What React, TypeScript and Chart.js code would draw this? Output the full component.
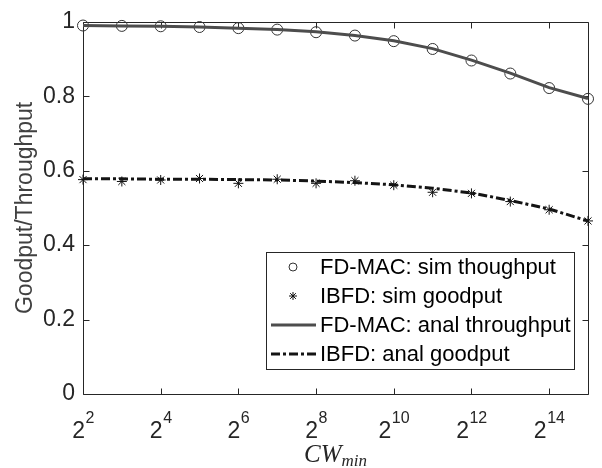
import React, { useEffect, useRef } from "react";
import { Chart, registerables } from "chart.js";

Chart.register(...registerables);

const exponents = [2, 3, 4, 5, 6, 7, 8, 9, 10, 11, 12, 13, 14, 15];
const simThroughput = [0.99, 0.989, 0.988, 0.986, 0.983, 0.979, 0.972, 0.963, 0.948, 0.927, 0.896, 0.861, 0.822, 0.793];
const analThroughput = [0.99, 0.989, 0.988, 0.986, 0.983, 0.979, 0.973, 0.963, 0.949, 0.928, 0.897, 0.862, 0.823, 0.794];
const simGoodput = [0.576, 0.571, 0.575, 0.579, 0.566, 0.577, 0.566, 0.573, 0.561, 0.542, 0.539, 0.517, 0.495, 0.465];
const analGoodput = [0.578, 0.578, 0.577, 0.577, 0.576, 0.575, 0.572, 0.568, 0.562, 0.553, 0.54, 0.52, 0.497, 0.465];
const xTickExponents = [2, 4, 6, 8, 10, 12, 14];
const yTicks = [0, 0.2, 0.4, 0.6, 0.8, 1];
const legendLabels = [
  "FD-MAC: sim thoughput",
  "IBFD: sim goodput",
  "FD-MAC: anal throughput",
  "IBFD: anal goodput",
];
const xTitle = "CW";
const xTitleSub = "min";
const yTitle = "Goodput/Throughput";

const AXIS = "#262626";
const FONT = "'Liberation Sans', Arial, sans-serif";
const THR_COLOR = "#4d4d4d";
const GP_COLOR = "#141414";
const GP_DASH = [9, 3, 3, 3];

const pts = (ys: number[]) => exponents.map((x, i) => ({ x, y: ys[i] }));

const drawStar = (ctx: CanvasRenderingContext2D, x: number, y: number, r: number) => {
  ctx.beginPath();
  for (let k = 0; k < 4; k++) {
    const a = (k * Math.PI) / 4;
    ctx.moveTo(x - r * Math.cos(a), y - r * Math.sin(a));
    ctx.lineTo(x + r * Math.cos(a), y + r * Math.sin(a));
  }
  ctx.stroke();
};

const matlabPlugin = {
  id: "matlabAxes",
  beforeDatasetsDraw(chart: any) {
    const { ctx, chartArea: a, scales } = chart;
    const xs = scales.x;
    const ys = scales.y;
    ctx.save();
    ctx.strokeStyle = AXIS;
    ctx.lineWidth = 1;
    const L = Math.round(a.left) + 0.5;
    const R = Math.round(a.right) + 0.5;
    const T = Math.round(a.top) + 0.5;
    const B = Math.round(a.bottom) + 0.5;
    ctx.beginPath();
    ctx.rect(L, T, R - L, B - T);
    ctx.stroke();
    const tl = 6;
    ctx.beginPath();
    xTickExponents.forEach((e) => {
      const px = Math.round(xs.getPixelForValue(e)) + 0.5;
      ctx.moveTo(px, B);
      ctx.lineTo(px, B - tl);
      ctx.moveTo(px, T);
      ctx.lineTo(px, T + tl);
    });
    yTicks.forEach((v) => {
      const py = Math.round(ys.getPixelForValue(v)) + 0.5;
      ctx.moveTo(L, py);
      ctx.lineTo(L + tl, py);
      ctx.moveTo(R, py);
      ctx.lineTo(R - tl, py);
    });
    ctx.stroke();

    // x tick labels 2^n
    ctx.fillStyle = AXIS;
    ctx.textBaseline = "alphabetic";
    ctx.textAlign = "left";
    xTickExponents.forEach((e) => {
      const px = xs.getPixelForValue(e);
      ctx.font = `23px ${FONT}`;
      const wb = ctx.measureText("2").width;
      ctx.font = `16px ${FONT}`;
      const we = ctx.measureText(String(e)).width;
      const start = px - (wb + we) / 2;
      ctx.font = `23px ${FONT}`;
      ctx.fillText("2", start, 438);
      ctx.font = `16px ${FONT}`;
      ctx.fillText(String(e), start + wb + 0.5, 423);
    });

    // x title
    const cx = (a.left + a.right) / 2;
    const serif = "'Liberation Serif', 'Times New Roman', serif";
    ctx.font = `italic 25px ${serif}`;
    const w1 = ctx.measureText(xTitle).width;
    ctx.font = `italic 17px ${serif}`;
    const w2 = ctx.measureText(xTitleSub).width;
    const sx = cx - (w1 + w2) / 2;
    ctx.font = `italic 25px ${serif}`;
    ctx.fillText(xTitle, sx, 462);
    ctx.font = `italic 17px ${serif}`;
    ctx.fillText(xTitleSub, sx + w1, 466);

    // y title
    ctx.save();
    ctx.translate(26, (a.top + a.bottom) / 2);
    ctx.rotate(-Math.PI / 2);
    ctx.font = `23px ${FONT}`;
    ctx.textAlign = "center";
    ctx.textBaseline = "middle";
    ctx.fillStyle = "#404040";
    ctx.fillText(yTitle, 0, 0);
    ctx.restore();
    ctx.restore();
  },
  afterDatasetsDraw(chart: any) {
    const { ctx } = chart;
    ctx.save();
    const bx = 266.5, by = 252.5, bw = 308, bh = 117;
    ctx.fillStyle = "#ffffff";
    ctx.fillRect(bx, by, bw, bh);
    ctx.strokeStyle = AXIS;
    ctx.lineWidth = 1;
    ctx.strokeRect(bx, by, bw, bh);
    const rows = [267, 296, 325, 354];
    const textX = 320;
    ctx.font = `22px ${FONT}`;
    ctx.fillStyle = "#000000";
    ctx.textAlign = "left";
    ctx.textBaseline = "middle";
    legendLabels.forEach((lbl, i) => ctx.fillText(lbl, textX, rows[i] + 1));
    // markers
    ctx.strokeStyle = "#333333";
    ctx.lineWidth = 1;
    ctx.beginPath();
    ctx.arc(293, rows[0], 4, 0, Math.PI * 2);
    ctx.stroke();
    ctx.strokeStyle = "#111111";
    drawStar(ctx, 293, rows[1], 4);
    ctx.lineWidth = 3;
    ctx.strokeStyle = THR_COLOR;
    ctx.beginPath();
    ctx.moveTo(271, rows[2]);
    ctx.lineTo(316, rows[2]);
    ctx.stroke();
    ctx.strokeStyle = GP_COLOR;
    ctx.setLineDash(GP_DASH);
    ctx.beginPath();
    ctx.moveTo(271, rows[3]);
    ctx.lineTo(316, rows[3]);
    ctx.stroke();
    ctx.restore();
  },
};

export default function App() {
  const ref = useRef<HTMLCanvasElement | null>(null);
  useEffect(() => {
    if (!ref.current) return;
    const chart = new Chart(ref.current, {
      type: "scatter",
      data: {
        datasets: [
          {
            label: legendLabels[2],
            data: pts(analThroughput),
            showLine: true,
            borderColor: THR_COLOR,
            borderWidth: 3,
            pointRadius: 0,
            tension: 0,
            clip: false,
          } as any,
          {
            label: legendLabels[3],
            data: pts(analGoodput),
            showLine: true,
            borderColor: GP_COLOR,
            borderWidth: 3,
            borderDash: GP_DASH,
            pointRadius: 0,
            tension: 0,
            clip: false,
          } as any,
          {
            label: legendLabels[0],
            data: pts(simThroughput),
            showLine: false,
            pointStyle: "circle",
            pointRadius: 5.5,
            pointBorderWidth: 1,
            pointBorderColor: "#333333",
            pointBackgroundColor: "rgba(0,0,0,0)",
            clip: false,
          } as any,
          {
            label: legendLabels[1],
            data: pts(simGoodput),
            showLine: false,
            pointStyle: "star",
            pointRadius: 5,
            pointBorderWidth: 1,
            pointBorderColor: "#111111",
            pointBackgroundColor: "rgba(0,0,0,0)",
            clip: false,
          } as any,
        ],
      },
      options: {
        animation: false,
        responsive: false,
        devicePixelRatio: 1,
        layout: { padding: { left: 0, top: 14, right: 14, bottom: 0 } },
        plugins: { legend: { display: false }, tooltip: { enabled: false } },
        events: [],
        scales: {
          x: {
            type: "linear",
            min: 2,
            max: 15,
            grid: { display: false, drawTicks: false },
            border: { display: false },
            ticks: { display: false },
            afterFit: (s: any) => {
              s.height = 74;
            },
          },
          y: {
            type: "linear",
            min: 0,
            max: 1,
            grid: { display: false, drawTicks: false },
            border: { display: false },
            afterBuildTicks: (s: any) => {
              s.ticks = yTicks.map((v) => ({ value: v }));
            },
            ticks: {
              padding: 8,
              color: AXIS,
              font: { family: FONT, size: 23 },
              callback: (v: any) => String(v),
            },
            afterFit: (s: any) => {
              s.width = 83;
            },
          },
        },
      },
      plugins: [matlabPlugin],
    });
    return () => chart.destroy();
  }, []);
  return (
    <div style={{ position: "absolute", left: 0, top: 0, width: 602, height: 468, background: "#fff" }}>
      <canvas ref={ref} width={602} height={468} />
    </div>
  );
}
